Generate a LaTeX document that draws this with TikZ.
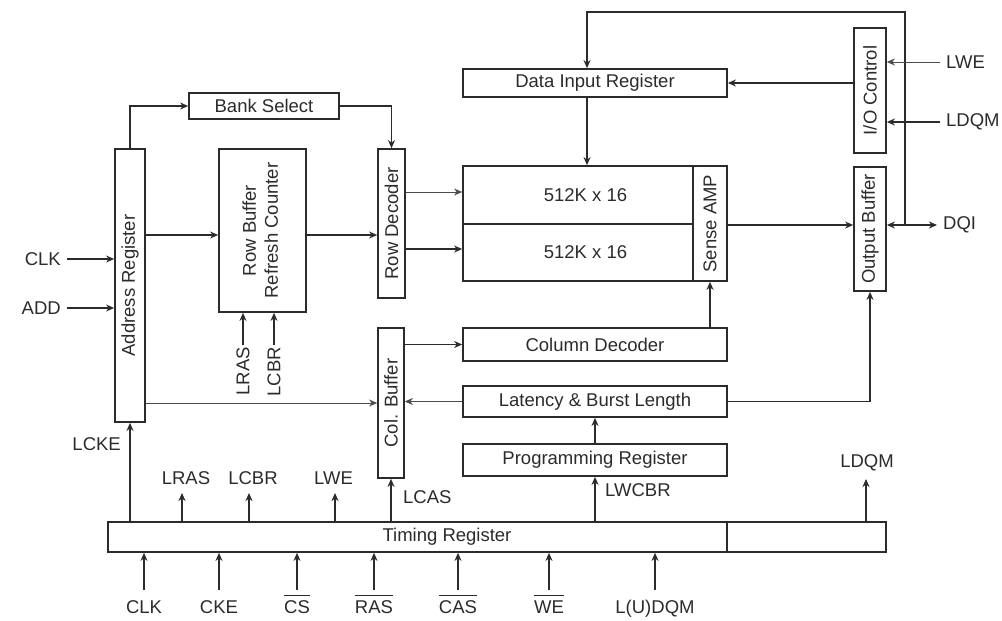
\documentclass[tikz,border=0pt]{standalone}
\usepackage{fontspec}
\setmainfont{Liberation Sans}
\usetikzlibrary{arrows.meta,calc,positioning}
\definecolor{sdInk}{HTML}{2B2B2B}
\definecolor{sdThin}{HTML}{4A4A4A}
\newcommand{\sdfont}{\fontsize{18.5}{22}\selectfont}
\newcommand{\sdneg}[1]{\setbox0=\hbox{#1}\rlap{\rule[17pt]{\wd0}{1.4pt}}\box0}
\tikzset{
  sd box/.style={draw=sdInk, line width=1.7pt, inner sep=0pt, text=sdInk, font=\sdfont},
  sd wire/.style={
    draw=sdInk,
    line width=1.6pt,
    -{Stealth[length=8pt,width=7pt,inset=2.5pt]}
  },
  sd wire thin/.style={sd wire, draw=sdThin, line width=1pt},
  sd bus/.style={
    draw=sdInk,
    line width=1.6pt,
    {Stealth[length=8pt,width=7pt,inset=2.5pt]}-{Stealth[length=8pt,width=7pt,inset=2.5pt]}
  },
  sd label/.style={inner sep=2pt, text=sdInk, font=\sdfont},
  sd pin/.style={sd label, inner xsep=6pt}
}

\begin{document}
\begin{tikzpicture}[x=1pt,y=-1pt]
  \useasboundingbox (0,0) rectangle (1002,621);

  % blocks
  \node[sd box, minimum width=30pt, minimum height=273pt] (addrreg) at (130,285.5) {\rotatebox{90}{Address Register}};
  \node[sd box, minimum width=150pt, minimum height=26pt] (banksel) at (264,106) {Bank Select};
  \node[sd box, minimum width=87pt, minimum height=163pt] (rowbuf) at (262.5,230.5)
    {\rotatebox{90}{\begin{tabular}{@{}c@{}}Row Buffer\\Refresh Counter\end{tabular}}};
  \node[sd box, minimum width=27pt, minimum height=149pt] (rowdec) at (391.5,223.5) {\rotatebox{90}{Row Decoder}};
  \node[sd box, minimum width=26pt, minimum height=150pt] (colbuf) at (391,403) {\rotatebox{90}{Col. Buffer}};

  \node[sd box, minimum width=264pt, minimum height=28pt] (datain) at (595,83) {Data Input Register};
  \node[sd box, minimum width=230pt, minimum height=58pt] (bankA) at (578,195) {\hspace*{15pt}512K x 16};
  \node[sd box, minimum width=230pt, minimum height=57pt] (bankB) at (578,252.5) {\hspace*{15pt}512K x 16};
  \node[sd box, minimum width=34pt, minimum height=115pt] (senseamp) at (710,223.5) {\rotatebox{90}{Sense AMP}};
  \node[sd box, minimum width=264pt, minimum height=33pt] (coldec) at (595,344.5) {Column Decoder};
  \node[sd box, minimum width=264pt, minimum height=31pt] (latency) at (595,401.5) {Latency \& Burst Length};
  \node[sd box, minimum width=264pt, minimum height=32pt] (progreg) at (595,460) {Programming Register};

  \node[sd box, minimum width=32pt, minimum height=125pt] (ioctrl) at (870,90.5) {\rotatebox{90}{I/O Control}};
  \node[sd box, minimum width=32pt, minimum height=124pt] (outbuf) at (870,229) {\rotatebox{90}{Output Buffer}};

  \node[sd box, minimum width=619pt, minimum height=30pt] (timing) at (417.5,537) {};
  \node[sd box, minimum width=159pt, minimum height=30pt] (timingx) at (806.5,537) {};
  \node[sd label] (timingtxt) at (447,537) {Timing Register};

  % internal paths
  \coordinate (rowline) at (0,235);
  \coordinate (looptop) at (587,12);
  \coordinate (dqjoin) at (905,225);
  \draw[sd wire] (addrreg.north) |- (banksel.west);
  \draw[sd wire] (banksel.east) -| (rowdec.north);
  \draw[sd wire] (addrreg.east |- rowline) -- (rowbuf.west |- rowline);
  \draw[sd wire] (rowbuf.east |- rowline) -- (rowdec.west |- rowline);
  \draw[sd wire thin] (rowdec.east |- 0,192) -- (bankA.west |- 0,192);
  \draw[sd wire] (rowdec.east |- 0,249) -- (bankB.west |- 0,249);
  \draw[sd wire] (dqjoin) |- (looptop) -- (looptop |- datain.north);
  \draw[sd wire] (looptop |- datain.south) -- (looptop |- bankA.north);
  \draw[sd wire] (ioctrl.west |- datain.east) -- (datain.east);
  \draw[sd wire] (senseamp.east |- dqjoin) -- (outbuf.west |- dqjoin);
  \draw[sd wire] (coldec.north -| senseamp.south) -- (senseamp.south);
  \draw[sd wire] (latency.east) -| (outbuf.south);
  \draw[sd wire] (progreg.north) -- (latency.south);
  \draw[sd wire] (timing.north -| progreg.south) -- (progreg.south);
  \draw[sd wire thin] (latency.west) -- (colbuf.east |- latency.west);
  \draw[sd wire] (colbuf.east |- coldec.west) -- (coldec.west);
  \draw[sd wire thin] (addrreg.east |- colbuf.west) -- (colbuf.west);
  \draw[sd wire] (timing.north -| colbuf.south) -- (colbuf.south);
  \draw[sd wire] (timing.north -| addrreg.south) -- (addrreg.south);

  % outside signals
  \node[sd pin, anchor=east] (clkin) at (67,259) {CLK};
  \node[sd pin, anchor=east] (addin) at (67,308) {ADD};
  \draw[sd wire] (clkin.east) -- (addrreg.west |- clkin.east);
  \draw[sd wire] (addin.east) -- (addrreg.west |- addin.east);

  \node[sd pin, anchor=west] (lwein) at (940,62) {LWE};
  \node[sd pin, anchor=west] (ldqmin) at (940,122) {LDQM};
  \node[sd pin, anchor=west] (dqi) at (937,225) {DQI};
  \draw[sd wire thin] (lwein.west) -- (ioctrl.east |- lwein.west);
  \draw[sd wire] (ldqmin.west) -- (ioctrl.east |- ldqmin.west);
  \draw[sd bus] (outbuf.east |- dqjoin) -- (dqi.west);

  \node[sd label, anchor=north] (rblras) at (243,345) {\rotatebox{90}{LRAS}};
  \node[sd label, anchor=north] (rblcbr) at (274,345) {\rotatebox{90}{LCBR}};
  \draw[sd wire] (rblras.north) -- (rblras.north |- rowbuf.south);
  \draw[sd wire] (rblcbr.north) -- (rblcbr.north |- rowbuf.south);

  % timing register outputs
  \coordinate (lrasend) at (182,493);
  \coordinate (lcbrend) at (249,493);
  \coordinate (lweend) at (335,493);
  \coordinate (ldqmend) at (866,479);
  \node[sd label, above=6pt of lrasend, xshift=4pt] (lrasout) {LRAS};
  \node[sd label, above=6pt of lcbrend, xshift=4pt] (lcbrout) {LCBR};
  \node[sd label, above=6pt of lweend, xshift=-1.5pt] (lweout) {LWE};
  \node[sd label, above=6pt of ldqmend, xshift=1pt] (ldqmout) {LDQM};
  \draw[sd wire] (timing.north -| lrasend) -- (lrasend);
  \draw[sd wire] (timing.north -| lcbrend) -- (lcbrend);
  \draw[sd wire] (timing.north -| lweend) -- (lweend);
  \draw[sd wire] (timingx.north -| ldqmend) -- (ldqmend);
  \node[sd label, anchor=east] (lcke) at (123,444) {LCKE};
  \node[sd label, anchor=west] (lcas) at (401,497) {LCAS};
  \node[sd label, anchor=west] (lwcbr) at (603,490) {LWCBR};

  % timing register inputs
  \coordinate (inrow) at (0,590);
  \node[sd label, anchor=base] (bclk) at (144,613) {CLK};
  \node[sd label, anchor=base] (bcke) at (219,613) {CKE};
  \node[sd label, anchor=base] (bcs) at (297,613) {\sdneg{CS}};
  \node[sd label, anchor=base] (bras) at (374,613) {\sdneg{RAS}};
  \node[sd label, anchor=base] (bcas) at (458,613) {\sdneg{CAS}};
  \node[sd label, anchor=base] (bwe) at (549,613) {\sdneg{WE}};
  \node[sd label, anchor=base] (bdqm) at (655,613) {L(U)DQM};
  \draw[sd wire] (bclk.base |- inrow) -- (bclk.base |- timing.south);
  \draw[sd wire] (bcke.base |- inrow) -- (bcke.base |- timing.south);
  \draw[sd wire] (bcs.base |- inrow) -- (bcs.base |- timing.south);
  \draw[sd wire] (bras.base |- inrow) -- (bras.base |- timing.south);
  \draw[sd wire] (bcas.base |- inrow) -- (bcas.base |- timing.south);
  \draw[sd wire] (bwe.base |- inrow) -- (bwe.base |- timing.south);
  \draw[sd wire] (bdqm.base |- inrow) -- (bdqm.base |- timing.south);
\end{tikzpicture}
\end{document}
